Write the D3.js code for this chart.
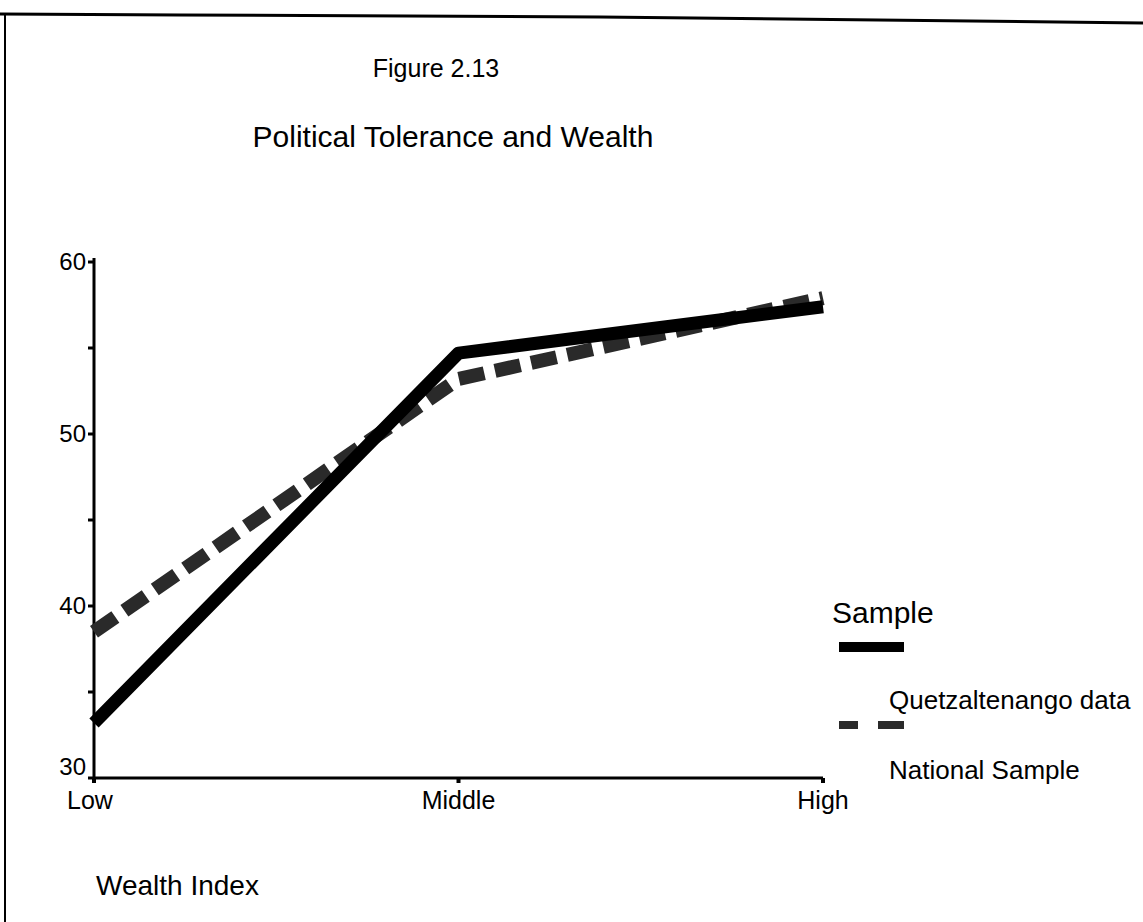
<!DOCTYPE html>
<html>
<head>
<meta charset="utf-8">
<script src="https://cdn.jsdelivr.net/npm/d3@7"></script>
<style>
  body { margin: 0; background: #fff; }
  text { font-family: "Liberation Sans", Arial, sans-serif; fill: #000; }
</style>
</head>
<body>
<div id="chart"></div>
<script>
// Chart data
var wealthLevels = ["Low", "Middle", "High"];
var quetzaltenango = [33.2, 54.7, 57.4];
var nationalSample = [38.5, 53.2, 57.9];
var seriesNames = ["Quetzaltenango data", "National Sample"];
var yTicksMajor = [30, 40, 50, 60];
var yTicksMinor = [35, 45, 55];

// SVG size
var svgWdt = 1143;
var svgHgt = 922;

var svg = d3.select("#chart").append("svg")
    .attr("width", svgWdt)
    .attr("height", svgHgt);

// scanned page frame (top and left edges)
svg.append("path")
    .attr("d", "M0,14 L180,15 L600,17 L1143,23")
    .attr("fill", "none")
    .attr("stroke", "#000")
    .attr("stroke-width", 3);
svg.append("line")
    .attr("x1", 5).attr("y1", 14)
    .attr("x2", 5).attr("y2", svgHgt)
    .attr("stroke", "#000")
    .attr("stroke-width", 2);

// scales
var x = d3.scalePoint().domain(wealthLevels).range([94, 823]);
var y = d3.scaleLinear().domain([30, 60]).range([778, 262]);

// titles
svg.append("text")
    .attr("x", 436).attr("y", 77)
    .attr("text-anchor", "middle")
    .style("font-size", "25px")
    .text("Figure 2.13");
svg.append("text")
    .attr("x", 453).attr("y", 147)
    .attr("text-anchor", "middle")
    .style("font-size", "30px")
    .text("Political Tolerance and Wealth");

// Y axis
var yAx = svg.append("g").attr("transform", "translate(94,0)");
yAx.append("line")
    .attr("y1", y(60) - 4).attr("y2", y(30))
    .attr("stroke", "#000").attr("stroke-width", 3);
yAx.selectAll(".tk").data(yTicksMajor.concat(yTicksMinor))
    .enter().append("line")
    .attr("x1", -6).attr("x2", 0)
    .attr("y1", d => y(d)).attr("y2", d => y(d))
    .attr("stroke", "#000").attr("stroke-width", 3);
// bottom label sits above the x axis so it clears "Low"
yAx.selectAll(".lbl").data(yTicksMajor)
    .enter().append("text")
    .attr("x", -8).attr("y", d => d === 30 ? y(d) - 11 : y(d))
    .attr("dy", "0.35em")
    .attr("text-anchor", "end")
    .style("font-size", "24px")
    .text(d => d);

// X axis
var xAx = svg.append("g").attr("transform", "translate(0,778)");
xAx.append("line")
    .attr("x1", x("Low")).attr("x2", x("High"))
    .attr("stroke", "#000").attr("stroke-width", 3);
xAx.selectAll(".tk").data(wealthLevels)
    .enter().append("line")
    .attr("x1", d => x(d)).attr("x2", d => x(d))
    .attr("y1", 0).attr("y2", 5)
    .attr("stroke", "#000").attr("stroke-width", 4);
xAx.selectAll(".lbl").data(wealthLevels)
    .enter().append("text")
    .attr("x", (d, i) => i === 0 ? x(d) - 4 : x(d))
    .attr("y", 31)
    .attr("text-anchor", "middle")
    .style("font-size", "25px")
    .text(d => d);

svg.append("text")
    .attr("x", 96).attr("y", 895)
    .style("font-size", "28px")
    .text("Wealth Index");

// lines
var line = d3.line()
    .x((d, i) => x(wealthLevels[i]))
    .y(d => y(d));

svg.append("path")
    .datum(nationalSample)
    .attr("d", line)
    .attr("fill", "none")
    .attr("stroke", "#2a2a2a")
    .attr("stroke-width", 14)
    .attr("stroke-dasharray", "26,11");

svg.append("path")
    .datum(quetzaltenango)
    .attr("d", line)
    .attr("fill", "none")
    .attr("stroke", "#000")
    .attr("stroke-width", 13)
    .attr("stroke-linejoin", "round");

// legend
var leg = svg.append("g");
leg.append("text")
    .attr("x", 832).attr("y", 623)
    .style("font-size", "30px")
    .text("Sample");
leg.append("line")
    .attr("x1", 839).attr("x2", 904)
    .attr("y1", 647).attr("y2", 647)
    .attr("stroke", "#000").attr("stroke-width", 10);
leg.append("line")
    .attr("x1", 839).attr("x2", 904)
    .attr("y1", 725).attr("y2", 725)
    .attr("stroke", "#2a2a2a").attr("stroke-width", 8)
    .attr("stroke-dasharray", "19,20,26");
leg.selectAll(".item").data(seriesNames)
    .enter().append("text")
    .attr("x", 889)
    .attr("y", (d, i) => 709 + i * 70)
    .style("font-size", "26px")
    .text(d => d);
</script>
</body>
</html>
